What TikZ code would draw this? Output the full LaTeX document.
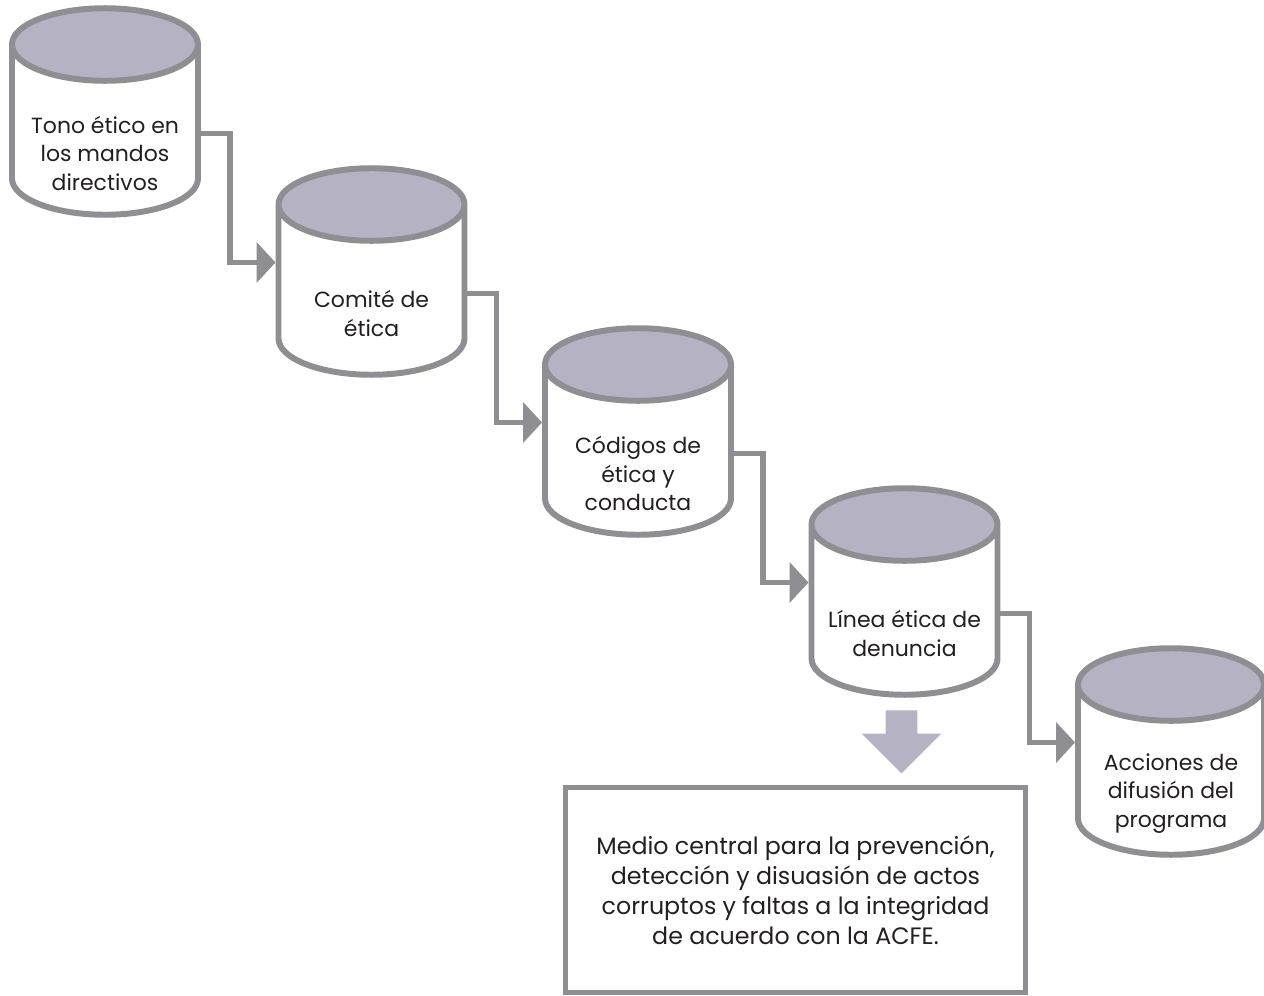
\documentclass[tikz,border=0pt]{standalone}
\usepackage{fontspec}
\setmainfont{Poppins}
\usetikzlibrary{shapes.geometric,shapes.arrows,arrows.meta}
\definecolor{linea}{HTML}{8F8F93}
\definecolor{tapa}{HTML}{B5B3C3}
\definecolor{tinta}{HTML}{231F20}
\tikzset{
  barril/.style={cylinder, shape border rotate=90, anchor=shape center, draw=linea, line width=3.4pt,
    aspect=0.39, minimum width=3.72cm, minimum height=4.06cm, inner xsep=1.86cm, inner ysep=1.31cm,
    cylinder uses custom fill, cylinder end fill=tapa, cylinder body fill=white},
  texto/.style={align=center, text=tinta, font=\fontsize{12.5}{16}\selectfont},
  conector/.style={draw=linea, line width=3.4pt, -{Triangle[length=0.38cm,width=0.8cm]}},
}
\begin{document}
\begin{tikzpicture}
    \useasboundingbox (0,0) rectangle (25.28,-19.92);
    % barriles
    \node[barril] (tono) at (2.10, -2.23) {};
    \node[barril] (comite) at (7.43, -5.43) {};
    \node[barril] (codigos) at (12.76, -8.63) {};
    \node[barril] (linea) at (18.09, -11.83) {};
    \node[barril] (acciones) at (23.42, -15.03) {};
    \node[texto] (tonotxt) at ([yshift=-0.84cm]tono.shape center) {Tono ético en\\los mandos\\directivos};
    \node[texto] (comitetxt) at ([yshift=-0.84cm]comite.shape center) {Comité de\\ética};
    \node[texto] (codigostxt) at ([yshift=-0.84cm]codigos.shape center) {Códigos de\\ética y\\conducta};
    \node[texto] (lineatxt) at ([yshift=-0.84cm]linea.shape center) {Línea ética de\\denuncia};
    \node[texto] (accionestxt) at ([yshift=-0.84cm]acciones.shape center) {Acciones de\\difusión del\\programa};
    % conectores
    \draw[conector] ([shift={(1.86,-0.44)}]tono.shape center) -- ++(0.64,0) |- ([shift={(-1.92,0.18)}]comite.shape center);
    \draw[conector] ([shift={(1.86,-0.44)}]comite.shape center) -- ++(0.64,0) |- ([shift={(-1.92,0.18)}]codigos.shape center);
    \draw[conector] ([shift={(1.86,-0.44)}]codigos.shape center) -- ++(0.64,0) |- ([shift={(-1.92,0.18)}]linea.shape center);
    \draw[conector] ([shift={(1.86,-0.44)}]linea.shape center) -- ++(0.64,0) |- ([shift={(-1.92,0.18)}]acciones.shape center);
    % flecha y recuadro
    \node[single arrow, fill=tapa, shape border rotate=270, inner sep=0.31cm, minimum height=1.26cm,
      minimum width=1.58cm, single arrow head extend=0.48cm] (flecha) at (18.03, -14.68) {};
    \node[draw=linea, line width=2.8pt, minimum width=9.2cm, minimum height=4.1cm, texto,
      font=\fontsize{13.5}{17}\selectfont] (medio) at (15.91, -17.80)
      {Medio central para la prevención,\\detección y disuasión de actos\\corruptos y faltas a la integridad\\de acuerdo con la ACFE.};
\end{tikzpicture}
\end{document}
